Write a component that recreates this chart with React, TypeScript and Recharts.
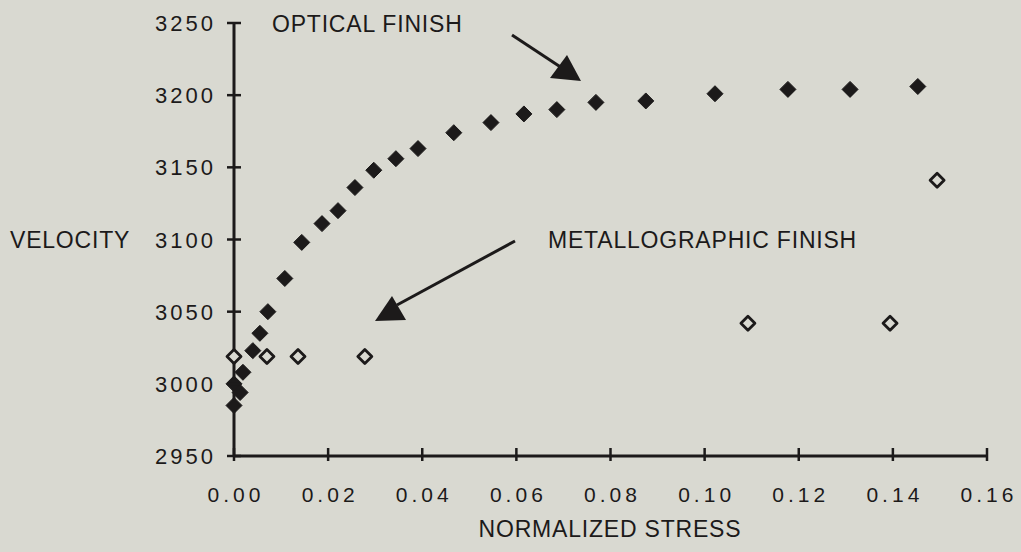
import React from 'react';
import { ScatterChart, Scatter, XAxis, YAxis } from 'recharts';

// optical finish (filled diamonds)
const opticalStress = [0, 0, 0.0013, 0.0019, 0.004, 0.0055, 0.0072, 0.0108, 0.0144, 0.0187, 0.0221, 0.0257, 0.0297, 0.0344, 0.0391, 0.0467, 0.0546, 0.0616, 0.0686, 0.0769, 0.0875, 0.1022, 0.1177, 0.1309, 0.1453];
const opticalVelocity = [3000, 2985, 2994, 3008, 3023, 3035, 3050, 3073, 3098, 3111, 3120, 3136, 3148, 3156, 3163, 3174, 3181, 3187, 3190, 3195, 3196, 3201, 3204, 3204, 3206];

// metallographic finish (open diamonds)
const metalStress = [0, 0.007, 0.0136, 0.0278, 0.1092, 0.1394, 0.1494];
const metalVelocity = [3019, 3019, 3019, 3019, 3042, 3042, 3141];

const xTicks = [0, 0.02, 0.04, 0.06, 0.08, 0.1, 0.12, 0.14, 0.16];
const yTicks = [2950, 3000, 3050, 3100, 3150, 3200, 3250];

const opticalData = opticalStress.map((x, i) => ({ x, y: opticalVelocity[i] }));
const metalData = metalStress.map((x, i) => ({ x, y: metalVelocity[i] }));

const BG = '#d9d9d1';
const INK = '#1c1a1a';
const FONT = '"Liberation Sans", Arial, Helvetica, sans-serif';

const FilledDiamond = (props: any) => {
  const { cx, cy } = props;
  const r = 8;
  return <polygon points={`${cx},${cy - r} ${cx + r},${cy} ${cx},${cy + r} ${cx - r},${cy}`} fill={INK} stroke={INK} strokeWidth={1} strokeLinejoin="round" />;
};

const OpenDiamond = (props: any) => {
  const { cx, cy } = props;
  const r = 7;
  return <polygon points={`${cx},${cy - r} ${cx + r},${cy} ${cx},${cy + r} ${cx - r},${cy}`} fill={BG} stroke={INK} strokeWidth={2.8} strokeLinejoin="round" />;
};

const YTick = (props: any) => {
  const { x, y, payload } = props;
  return (
    <g>
      <line x1={x - 7} y1={y} x2={x + 7} y2={y} stroke={INK} strokeWidth={2.5} />
      <text x={x - 18} y={y + 8} textAnchor="end" fontSize={22} letterSpacing={3} fill={INK} fontFamily={FONT}>
        {payload.value}
      </text>
    </g>
  );
};

const XTick = (props: any) => {
  const { x, y, payload } = props;
  return (
    <g>
      <line x1={x} y1={y - 8} x2={x} y2={y + 5} stroke={INK} strokeWidth={2.5} />
      <text x={x + 2} y={y + 46} textAnchor="middle" fontSize={21} letterSpacing={4} fill={INK} fontFamily={FONT}>
        {Number(payload.value).toFixed(2)}
      </text>
    </g>
  );
};

export default function App() {
  return (
    <div style={{ position: 'absolute', left: 0, top: 0, width: 1021, height: 552, background: BG, fontFamily: FONT }}>
      <ScatterChart width={1021} height={552} margin={{ top: 23, right: 34, bottom: 76, left: 214 }}>
        <XAxis
          type="number"
          dataKey="x"
          domain={[0, 0.16]}
          ticks={xTicks}
          interval={0}
          height={20}
          tickSize={0}
          tickMargin={0}
          tick={<XTick />}
          axisLine={{ stroke: INK, strokeWidth: 3 }}
          tickLine={false}
        />
        <YAxis
          type="number"
          dataKey="y"
          domain={[2950, 3250]}
          ticks={yTicks}
          interval={0}
          width={20}
          tickSize={0}
          tickMargin={0}
          tick={<YTick />}
          axisLine={{ stroke: INK, strokeWidth: 3 }}
          tickLine={false}
        />
        <Scatter data={opticalData} shape={<FilledDiamond />} isAnimationActive={false} />
        <Scatter data={metalData} shape={<OpenDiamond />} isAnimationActive={false} />
      </ScatterChart>
      <svg width={1021} height={552} style={{ position: 'absolute', left: 0, top: 0, pointerEvents: 'none' }}>
        <g fill={INK} fontFamily={FONT} fontSize={23} letterSpacing={0.8}>
          <text x={272} y={32}>OPTICAL FINISH</text>
          <text x={548} y={248}>METALLOGRAPHIC FINISH</text>
          <text x={10} y={248}>VELOCITY</text>
          <text x={610} y={537} textAnchor="middle">NORMALIZED STRESS</text>
        </g>
        {/* arrows */}
        <line x1={512} y1={35} x2={562} y2={68} stroke={INK} strokeWidth={3} />
        <polygon points="550,78 581,81 567,55" fill={INK} />
        <line x1={515} y1={241} x2={397} y2={305} stroke={INK} strokeWidth={3} />
        <polygon points="375,321 406,320 392,296" fill={INK} />
      </svg>
    </div>
  );
}
